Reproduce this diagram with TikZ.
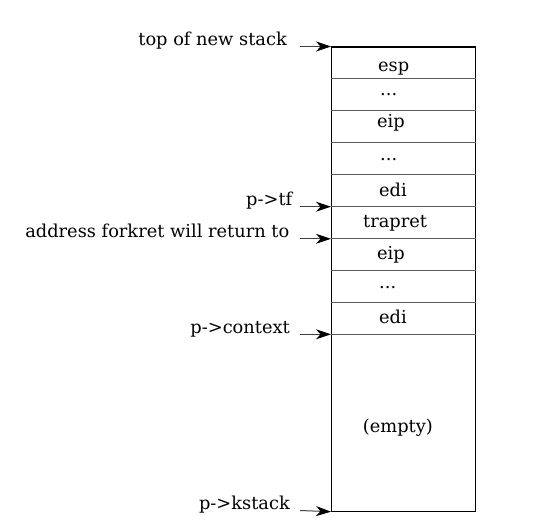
\documentclass[tikz,border=0pt]{standalone}
\usepackage{fontspec}
\setmainfont{DejaVu Serif}
\usetikzlibrary{arrows.meta}
\begin{document}
\begin{tikzpicture}[x=1pt,y=-1pt,
  txt/.style={font=\fontsize{17.8}{20}\selectfont, inner sep=0pt},
  lbl/.style={txt, anchor=base east},
  cell/.style={txt, anchor=base west},
  ptr/.style={-{Stealth[length=15pt,width=10pt,inset=4.5pt,fill=black,color=black]}, line width=1pt, draw=black!75},
  divider/.style={draw=black!65, line width=1pt}]
\useasboundingbox (0,0) rectangle (548,524);
% stack frame
\node[draw, line width=1.2pt, minimum width=144pt, minimum height=464pt, inner sep=0pt, anchor=north west] (stack) at (331,46.5) {};
% dividers
\foreach \yy in {78.5,110.5,142.5,174.5,206.7,238.8,270.8,302.7,334.3}
  \draw[divider] (stack.west |- 0,\yy) -- (stack.east |- 0,\yy);
% cell contents
\node[cell] (c1) at (378,71.3) {esp};
\node[cell] (c2) at (380,95.5) {...};
\node[cell] (c3) at (377,127.3) {eip};
\node[cell] (c4) at (380,160.5) {...};
\node[cell] (c5) at (379,196) {edi};
\node[cell] (c6) at (363,227.3) {trapret};
\node[cell] (c7) at (377,259.3) {eip};
\node[cell] (c8) at (379,288) {...};
\node[cell] (c9) at (379,323.3) {edi};
\node[cell] (c10) at (362.7,432) {(empty)};
% pointer targets
\coordinate (ttop) at (stack.north west);
\coordinate (ttf) at (stack.west |- 0,206.7);
\coordinate (tret) at (stack.west |- 0,238.8);
\coordinate (tctx) at (stack.west |- 0,334.3);
\coordinate (tk) at (stack.south west);
% pointer starts
\coordinate (stop) at (300,46.5);
\coordinate (stf) at (300,206.7);
\coordinate (sret) at (300,238.8);
\coordinate (sctx) at (300,334.3);
\coordinate (sk) at (300,510.5);
% labels
\node[lbl] (ltop) at (287,45.5) {top of new stack};
\node[lbl] (ltf) at (292.5,205.7) {p->tf};
\node[lbl] (lret) at (289.5,237.8) {address forkret will return to};
\node[lbl] (lctx) at (290,333.3) {p->context};
\node[lbl] (lk) at (290,509.5) {p->kstack};
% pointers
\draw[ptr] (stop) -- (ttop);
\draw[ptr] (stf) -- (ttf);
\draw[ptr] (sret) -- (tret);
\draw[ptr] (sctx) -- (tctx);
\draw[ptr] (sk) -- (tk);
\end{tikzpicture}
\end{document}
